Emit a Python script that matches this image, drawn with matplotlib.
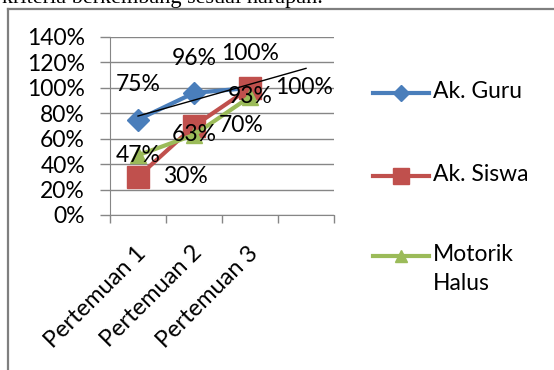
import numpy as np
import matplotlib.pyplot as plt
from matplotlib.lines import Line2D
from matplotlib.ticker import PercentFormatter

plt.rcParams['font.family'] = ['Lato', 'DejaVu Sans']

# data
pertemuan = ['Pertemuan 1', 'Pertemuan 2', 'Pertemuan 3']
ak_guru = [0.75, 0.96, 1.00]
ak_siswa = [0.30, 0.70, 1.00]
motorik = [0.47, 0.63, 0.93]
yticks = [0, 0.2, 0.4, 0.6, 0.8, 1.0, 1.2, 1.4]

W, H = 554, 370
fig = plt.figure(figsize=(W / 100, H / 100), dpi=100)
ax = fig.add_axes([110 / W, 1 - 215 / H, 224 / W, 178 / H])

x = np.arange(1, len(pertemuan) + 1)
grey = '#868686'
fs = 16.5

# series
blue, red, green = '#4A7EBB', '#C0504D', '#9BBB59'
ax.plot(x, ak_guru, color=blue, lw=3, marker='D', ms=11, zorder=3)
ax.plot(x, ak_siswa, color=red, lw=3, marker='s', ms=16, zorder=4)
ax.plot(x, motorik, color=green, lw=3, marker='^', ms=12, zorder=5)

# linear trend for Ak. Guru, one period forward
k, b = np.polyfit(x, ak_guru, 1)
xt = np.array([1, 4])
ax.plot(xt, k * xt + b, color='black', lw=1, zorder=6)

# data labels
for xi, v in zip(x, ak_guru):
    ax.annotate(f'{v:.0%}', (xi, v), xytext=(0, 25), textcoords='offset points',
                ha='center', va='center', fontsize=fs, zorder=7)
for xi, v in zip(x, ak_siswa):
    ax.annotate(f'{v:.0%}', (xi, v), xytext=(18, 0), textcoords='offset points',
                ha='left', va='center', fontsize=fs, zorder=7)
for xi, v in zip(x, motorik):
    ax.annotate(f'{v:.0%}', (xi, v), xytext=(0, 0), textcoords='offset points',
                ha='center', va='center', fontsize=fs, zorder=7)

# axes
ax.set_xlim(0.5, 4.5)
ax.set_ylim(0, 1.4)
ax.set_yticks(yticks)
ax.yaxis.set_major_formatter(PercentFormatter(1.0, decimals=0))
ax.grid(axis='y', color=grey, lw=1)
ax.set_axisbelow(True)
for s in ['top', 'right']:
    ax.spines[s].set_visible(False)
for s in ['left', 'bottom']:
    ax.spines[s].set_color(grey)
ax.tick_params(axis='y', length=7, width=1, color=grey, pad=11, labelsize=fs)

ax.set_xticks(x + 0.08)
ax.set_xticklabels(pertemuan, rotation=45, ha='right', va='center',
                   rotation_mode='anchor', fontsize=fs + 0.5)
ax.set_xticks(np.arange(0.5, 5, 1), minor=True)
ax.tick_params(axis='x', which='major', length=0, pad=25)
ax.tick_params(axis='x', which='minor', length=6, width=1, color=grey)

# legend
def fx(px):
    return px / W

def fy(py):
    return 1 - py / H

legend_items = [
    ('Ak. Guru', blue, 'D', 8, 93),
    ('Ak. Siswa', red, 's', 11, 176),
    ('Motorik\nHalus', green, '^', 9, 256),
]
for label, c, m, ms, py in legend_items:
    fig.add_artist(Line2D([fx(373), fx(401), fx(429)], [fy(py)] * 3, color=c, lw=3,
                          marker=m, ms=ms, markevery=[1], transform=fig.transFigure))
    fig.text(fx(433), fy(py - 12), label, fontsize=fs, va='top', ha='left',
             linespacing=1.5)

# frame and clipped caption above it
fig.add_artist(Line2D([fx(8), fx(W)], [fy(9), fy(9)], color='#7f7f7f', lw=1.6,
                      transform=fig.transFigure))
fig.add_artist(Line2D([fx(8), fx(8)], [fy(9), 0], color='#7f7f7f', lw=1.6,
                      transform=fig.transFigure))
fig.text(fx(2), fy(3), 'kriteria berkembang sesuai harapan.', fontsize=16,
         family='Liberation Serif', va='baseline', ha='left')

fig.savefig('out.png', dpi=100)
